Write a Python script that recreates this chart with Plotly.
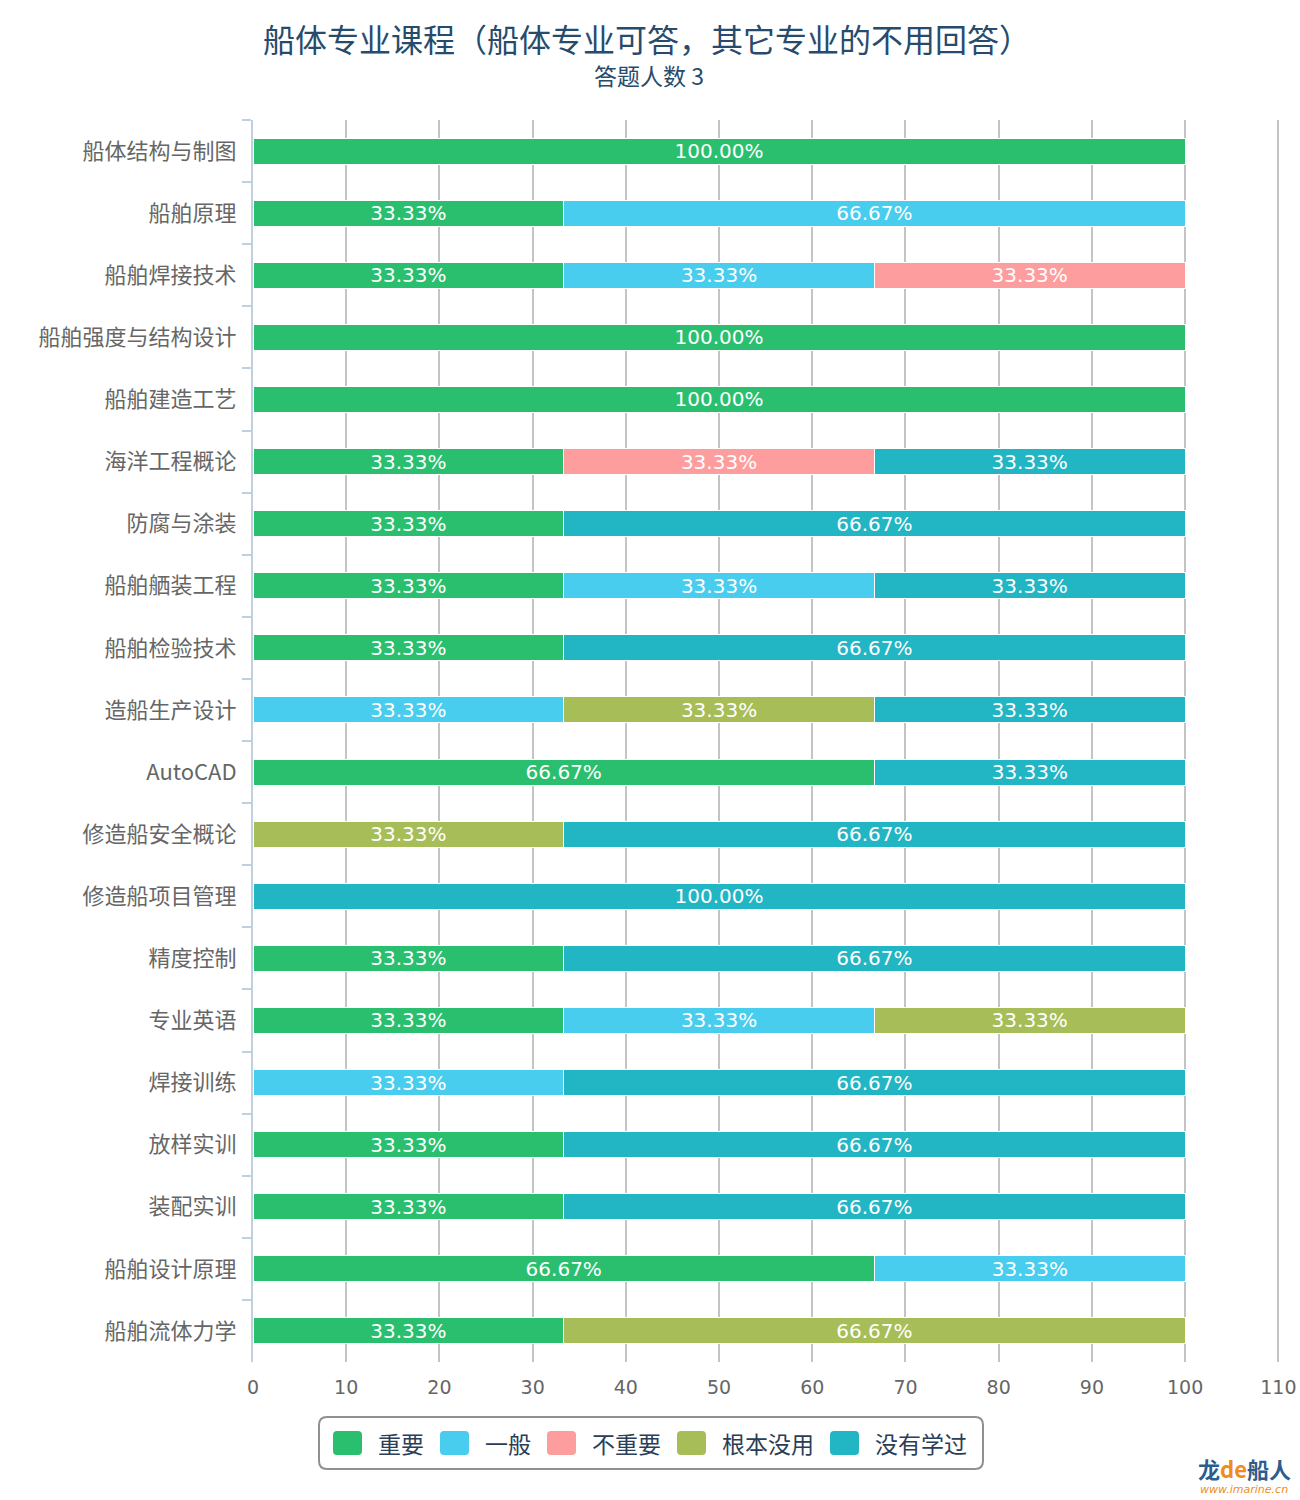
import plotly.graph_objects as go

categories = ["船体结构与制图", "船舶原理", "船舶焊接技术", "船舶强度与结构设计", "船舶建造工艺",
              "海洋工程概论", "防腐与涂装", "船舶舾装工程", "船舶检验技术", "造船生产设计",
              "AutoCAD", "修造船安全概论", "修造船项目管理", "精度控制", "专业英语",
              "焊接训练", "放样实训", "装配实训", "船舶设计原理", "船舶流体力学"]

series_names = ["重要", "一般", "不重要", "根本没用", "没有学过"]
series_colors = ["#29bf6e", "#48cdee", "#fe9d9d", "#a6bd58", "#22b5c4"]

important   = [100, 33.33, 33.33, 100, 100, 33.33, 33.33, 33.33, 33.33, 0, 66.67, 0, 0, 33.33, 33.33, 0, 33.33, 33.33, 66.67, 33.33]
general     = [0, 66.67, 33.33, 0, 0, 0, 0, 33.33, 0, 33.33, 0, 0, 0, 0, 33.33, 33.33, 0, 0, 33.33, 0]
unimportant = [0, 0, 33.33, 0, 0, 33.33, 0, 0, 0, 0, 0, 0, 0, 0, 0, 0, 0, 0, 0, 0]
useless     = [0, 0, 0, 0, 0, 0, 0, 0, 0, 33.33, 0, 33.33, 0, 0, 33.33, 0, 0, 0, 0, 66.67]
not_learned = [0, 0, 0, 0, 0, 33.33, 66.67, 33.33, 66.67, 33.33, 33.33, 66.67, 100, 66.67, 0, 66.67, 66.67, 66.67, 0, 0]

series_values = [important, general, unimportant, useless, not_learned]

title_text = "船体专业课程（船体专业可答，其它专业的不用回答）"
subtitle_text = "答题人数 3"

FONT = "DejaVu Sans, Noto Sans CJK SC, sans-serif"
CJK = "Noto Sans CJK SC, DejaVu Sans, sans-serif"

X_MAX = 110.5
W, H = 1300, 1500
ML, MR, MT, MB = 253, 17, 120, 138
PW, PH = W - ML - MR, H - MT - MB


def px(x):
    return (x - ML) / PW


def py(y):
    return (H - MB - y) / PH


def rrect(x0, y0, x1, y1, r):
    X0, X1 = px(x0), px(x1)
    Y0, Y1 = py(y0), py(y1)
    rx, ry = r / PW, r / PH
    return (f"M{X0+rx},{Y0} L{X1-rx},{Y0} Q{X1},{Y0} {X1},{Y0-ry} "
            f"L{X1},{Y1+ry} Q{X1},{Y1} {X1-rx},{Y1} L{X0+rx},{Y1} "
            f"Q{X0},{Y1} {X0},{Y1+ry} L{X0},{Y0-ry} Q{X0},{Y0} {X0+rx},{Y0} Z")


fig = go.Figure()
for name, color, vals in zip(series_names, series_colors, series_values):
    fig.add_trace(go.Bar(
        name=name, y=categories, x=vals, orientation="h",
        marker=dict(color=color, line=dict(color="white", width=1)),
        text=[f"{v:.2f}%" if v > 0 else "" for v in vals],
        textposition="inside", insidetextanchor="middle", textangle=0,
        textfont=dict(color="white", size=20, family=FONT),
        constraintext="none", showlegend=False, cliponaxis=False,
    ))

shapes = []
annotations = [
    dict(text=title_text, x=px(647), xref="paper", y=py(38), yref="paper", xanchor="center", yanchor="middle",
         showarrow=False, font=dict(size=32, color="#274b6d", family=CJK)),
    dict(text=subtitle_text, x=px(649), xref="paper", y=py(75), yref="paper", xanchor="center", yanchor="middle",
         showarrow=False, font=dict(size=23, color="#274b6d", family=CJK)),
]

LEG_FS = 23
shapes.append(dict(type="path", xref="paper", yref="paper", path=rrect(319, 1417, 983, 1469, 8),
                   line=dict(color="#909090", width=2), fillcolor="white", layer="above"))
cx = 333
for name, color in zip(series_names, series_colors):
    shapes.append(dict(type="path", xref="paper", yref="paper", path=rrect(cx, 1431, cx + 29, 1455, 4),
                       line=dict(width=0), fillcolor=color, layer="above"))
    tx = cx + 43
    annotations.append(dict(text=name, x=px(tx), xref="paper", y=py(1443), yref="paper",
                            xanchor="left", yanchor="middle", showarrow=False,
                            font=dict(size=LEG_FS, color="#2b3e57", family=CJK)))
    cx = tx + len(name) * LEG_FS + 18

annotations.append(dict(text="<b>龙<span style='color:#f08c1e'>de</span>船人</b>", x=px(1244), xref="paper",
                        y=py(1468), yref="paper", xanchor="center", yanchor="middle", showarrow=False,
                        font=dict(size=22, color="#2d5c8f", family=CJK)))
annotations.append(dict(text="<i>www.imarine.cn</i>", x=px(1244), xref="paper",
                        y=py(1489), yref="paper", xanchor="center", yanchor="middle", showarrow=False,
                        font=dict(size=11, color="#f08c1e", family=FONT)))

fig.update_layout(
    width=W, height=H, barmode="stack", bargap=0.58,
    margin=dict(l=ML, r=MR, t=MT, b=MB, autoexpand=False),
    paper_bgcolor="white", plot_bgcolor="white",
    font=dict(family=FONT, color="#666666"),
    shapes=shapes, annotations=annotations, showlegend=False,
    xaxis=dict(range=[0, X_MAX], dtick=10, tick0=0, showgrid=True, gridcolor="#c4c4c4", gridwidth=2,
               zeroline=False, showline=False, ticks="outside", ticklen=8, tickcolor="rgba(0,0,0,0)",
               tickfont=dict(size=19, color="#666666", family=FONT), fixedrange=True, automargin=False),
    yaxis=dict(autorange="reversed", showgrid=False, zeroline=False, showline=True,
               linecolor="#c0d0e0", linewidth=2, ticks="outside", ticklen=9, tickcolor="#c0d0e0",
               tickwidth=2, tickson="boundaries", ticklabelstandoff=10, automargin=False,
               tickfont=dict(size=22, color="#666666", family=CJK)),
)

fig.write_html("out.html")
